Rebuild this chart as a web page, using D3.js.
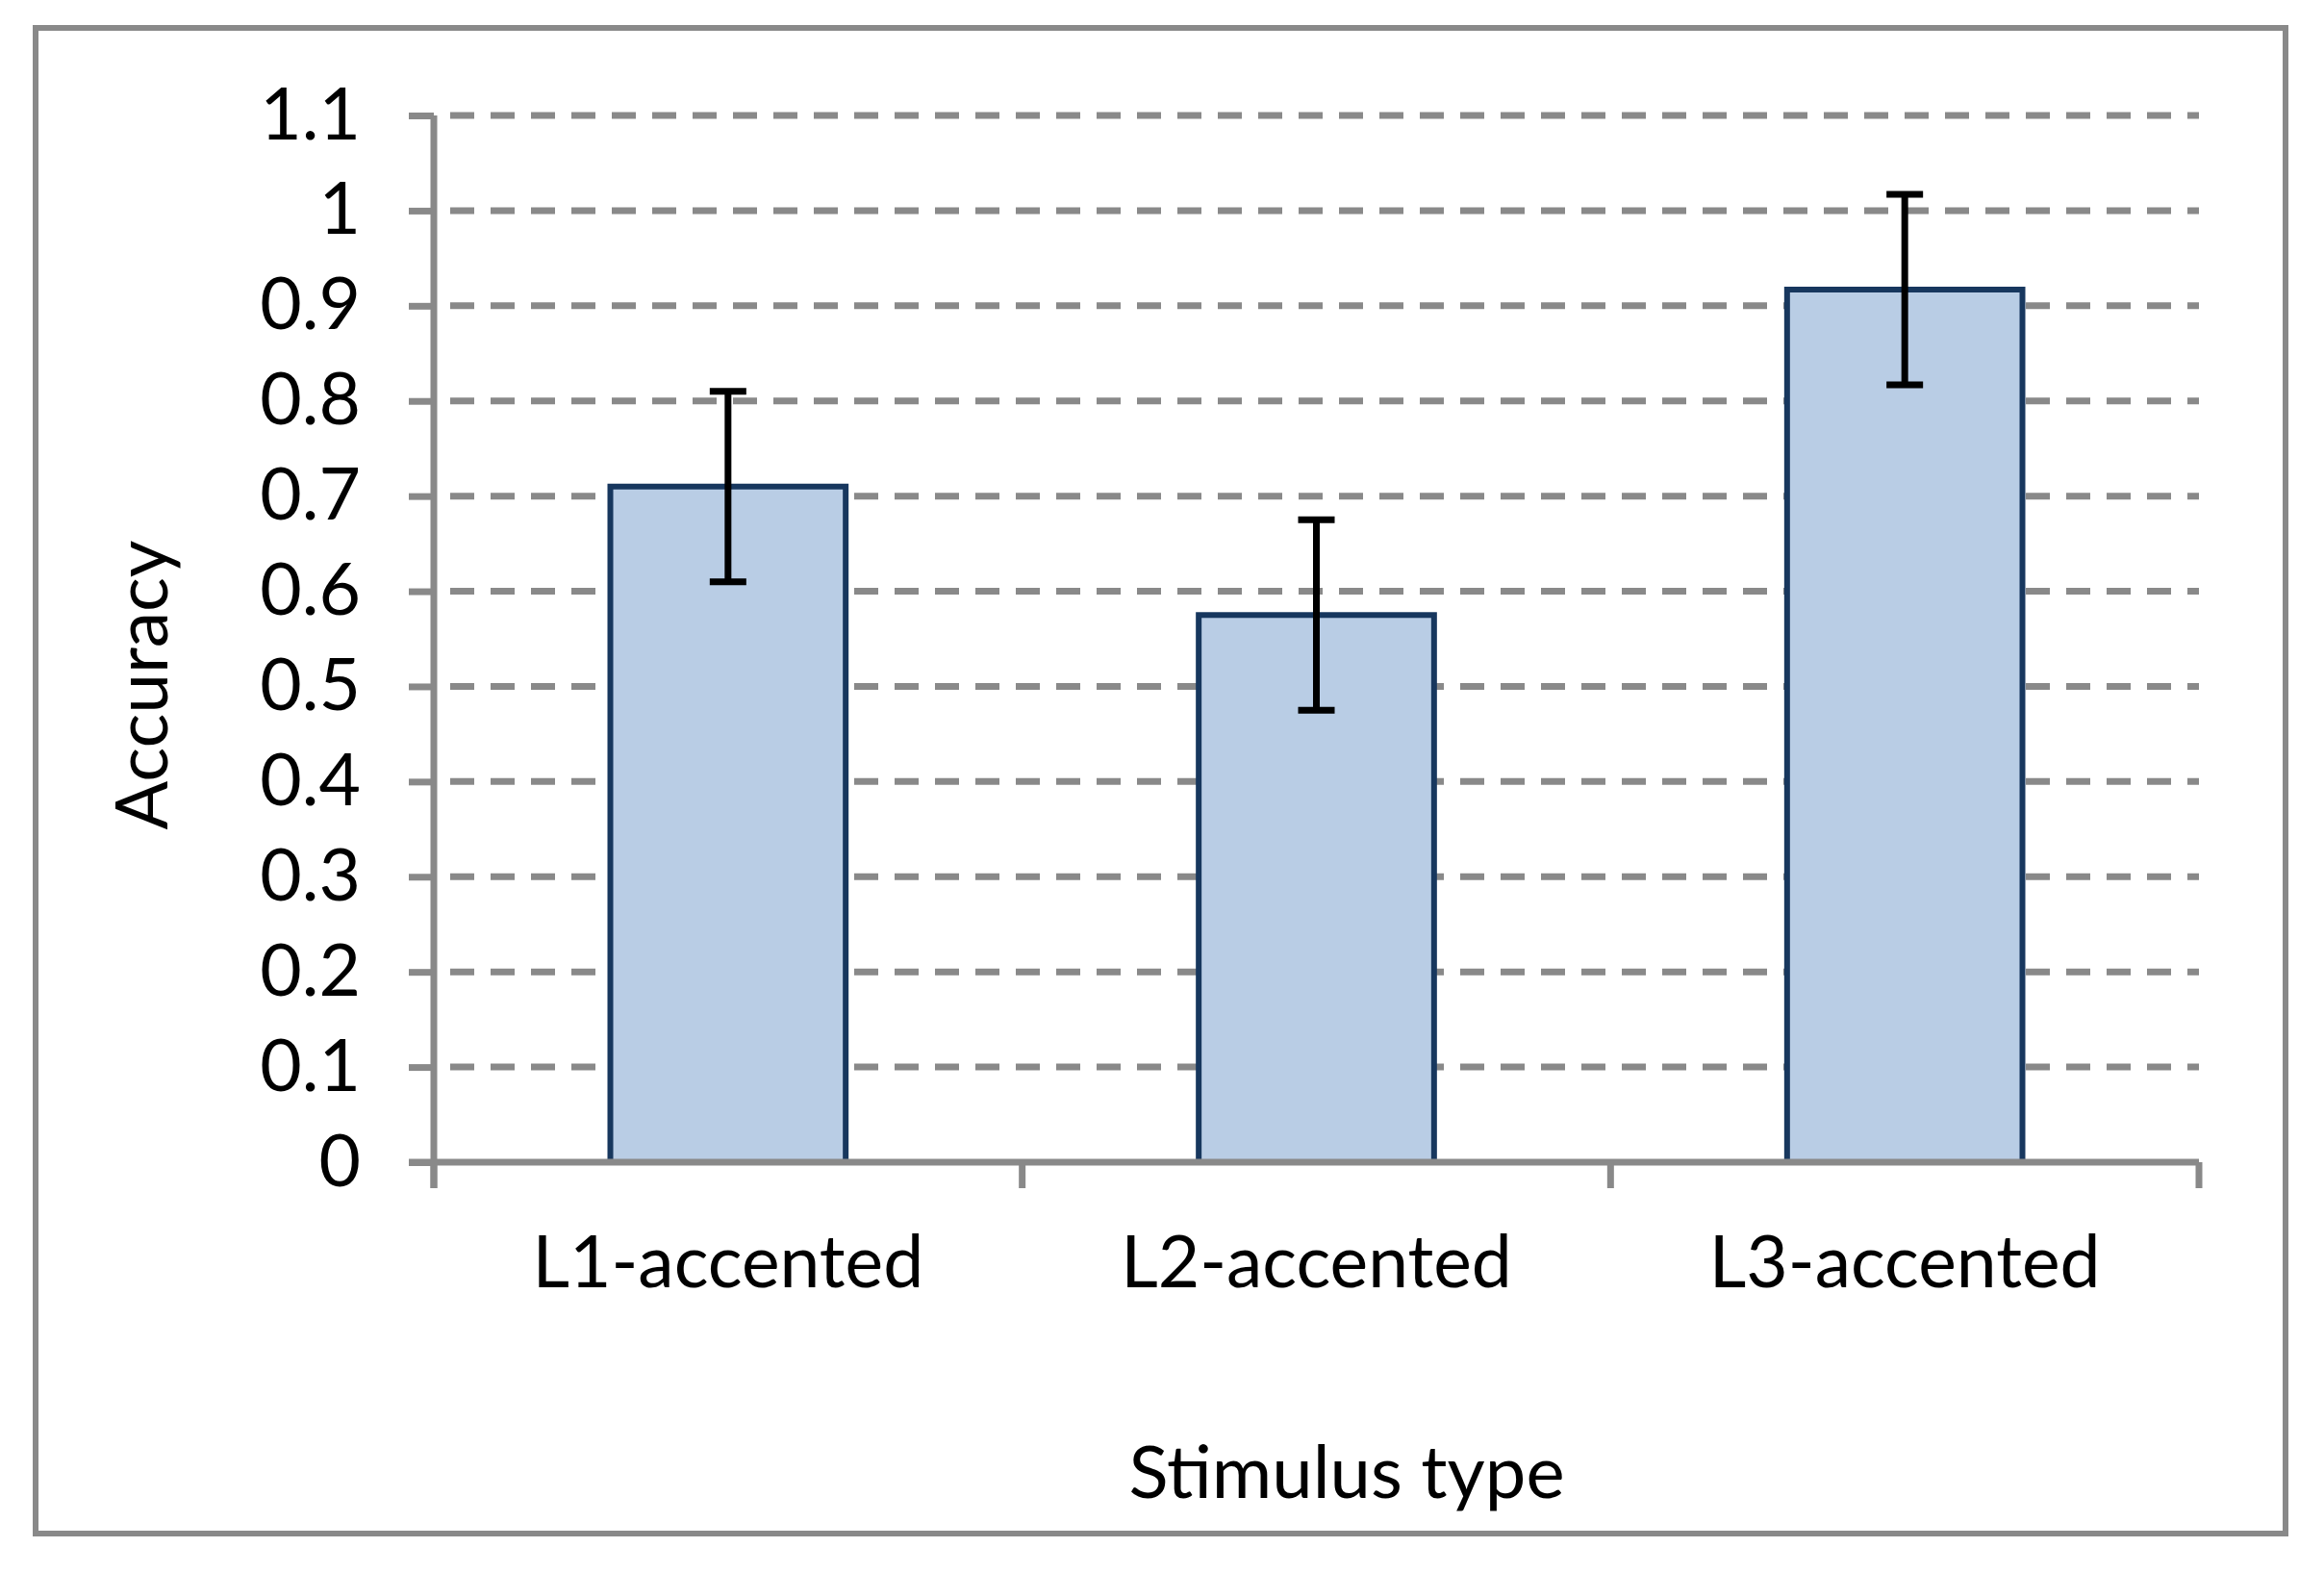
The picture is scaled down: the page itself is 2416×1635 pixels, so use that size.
<!DOCTYPE html>
<html>
<head>
<meta charset="utf-8">
<script src="https://cdn.jsdelivr.net/npm/d3@7"></script>
<style>
  body { margin: 0; background: #ffffff; }
  text { font-family: Lato, "Open Sans", sans-serif; fill: #000000; }
</style>
</head>
<body>
<div id="chart"></div>
<script>
// Chart data
const categories = ["L1-accented", "L2-accented", "L3-accented"];
const accuracy = [0.71, 0.575, 0.917];
const errors = [0.1, 0.1, 0.1];
const yTicks = [0, 0.1, 0.2, 0.3, 0.4, 0.5, 0.6, 0.7, 0.8, 0.9, 1, 1.1];
const yTickLabels = ["0", "0.1", "0.2", "0.3", "0.4", "0.5", "0.6", "0.7", "0.8", "0.9", "1", "1.1"];

// Dimensions
const w = 2416;
const h = 1635;
const plotLeft = 451;
const plotRight = 2286;
const plotTop = 120;
const plotBottom = 1208;

// Colors
const gray = "#898989";
const barFill = "#b9cde5";
const barStroke = "#17375e";

const data = categories.map((c, i) => ({cat: c, value: accuracy[i], err: errors[i]}));

const svg = d3.select("#chart")
  .append("svg")
  .attr("width", w)
  .attr("height", h);

// Outer frame
svg.append("rect")
   .attr("x", 37)
   .attr("y", 29)
   .attr("width", 2376 - 37)
   .attr("height", 1594 - 29)
   .attr("fill", "none")
   .attr("stroke", gray)
   .attr("stroke-width", 6);

// Scales
const xScale = d3.scaleBand()
  .domain(categories)
  .range([plotLeft, plotRight])
  .paddingInner(0.6)
  .paddingOuter(0.3);

const yScale = d3.scaleLinear()
  .domain([0, 1.1])
  .range([plotBottom, plotTop]);

// Gridlines (dashed), skip zero
svg.append("g")
   .selectAll("line")
   .data(yTicks.filter(d => d > 0))
   .enter()
   .append("line")
   .attr("x1", plotLeft)
   .attr("x2", plotRight)
   .attr("y1", d => yScale(d))
   .attr("y2", d => yScale(d))
   .attr("stroke", gray)
   .attr("stroke-width", 7)
   .attr("stroke-dasharray", "25,17")
   .attr("stroke-dashoffset", -17);

// Y axis with ticks and labels
const yAxis = d3.axisLeft(yScale)
  .tickValues(yTicks)
  .tickFormat((d, i) => yTickLabels[i])
  .tickSize(26)
  .tickPadding(50);

const yAxisG = svg.append("g")
   .attr("transform", "translate(" + plotLeft + ",0)")
   .call(yAxis);

yAxisG.select(".domain").remove();
yAxisG.selectAll(".tick line")
   .attr("stroke", gray)
   .attr("stroke-width", 7);
yAxisG.selectAll(".tick text")
   .style("font-family", "Lato")
   .style("font-size", "75px")
   .attr("fill", "#000");

// Bars
svg.selectAll("rect.bar")
   .data(data)
   .enter()
   .append("rect")
   .attr("class", "bar")
   .attr("x", d => xScale(d.cat))
   .attr("y", d => yScale(d.value))
   .attr("width", xScale.bandwidth())
   .attr("height", d => yScale(0) - yScale(d.value))
   .attr("fill", barFill)
   .attr("stroke", barStroke)
   .attr("stroke-width", 6);

// Axis lines
svg.append("line")
   .attr("x1", plotLeft)
   .attr("x2", plotLeft)
   .attr("y1", plotTop)
   .attr("y2", plotBottom + 27)
   .attr("stroke", gray)
   .attr("stroke-width", 7);

svg.append("line")
   .attr("x1", plotLeft - 26)
   .attr("x2", plotRight)
   .attr("y1", plotBottom)
   .attr("y2", plotBottom)
   .attr("stroke", gray)
   .attr("stroke-width", 7);

// X axis ticks at band boundaries
const step = xScale.step();
const boundaries = categories.map(c => xScale(c) + xScale.bandwidth() / 2 + step / 2);
boundaries.unshift(xScale(categories[0]) + xScale.bandwidth() / 2 - step / 2);

svg.append("g")
   .selectAll("line")
   .data(boundaries)
   .enter()
   .append("line")
   .attr("x1", d => d)
   .attr("x2", d => d)
   .attr("y1", plotBottom)
   .attr("y2", plotBottom + 27)
   .attr("stroke", gray)
   .attr("stroke-width", 7);

// Error bars
const errG = svg.append("g")
   .selectAll("g")
   .data(data)
   .enter()
   .append("g");

const cx = d => xScale(d.cat) + xScale.bandwidth() / 2;

errG.append("line")
   .attr("x1", cx)
   .attr("x2", cx)
   .attr("y1", d => yScale(d.value + d.err))
   .attr("y2", d => yScale(d.value - d.err))
   .attr("stroke", "#000")
   .attr("stroke-width", 7);

[1, -1].forEach(function (s) {
  errG.append("line")
     .attr("x1", d => cx(d) - 19)
     .attr("x2", d => cx(d) + 19)
     .attr("y1", d => yScale(d.value + s * d.err))
     .attr("y2", d => yScale(d.value + s * d.err))
     .attr("stroke", "#000")
     .attr("stroke-width", 7);
});

// Category labels
svg.append("g")
   .selectAll("text")
   .data(categories)
   .enter()
   .append("text")
   .attr("x", d => xScale(d) + xScale.bandwidth() / 2)
   .attr("y", 1338)
   .attr("text-anchor", "middle")
   .style("font-size", "75px")
   .text(d => d);

// Axis titles
svg.append("text")
   .attr("x", 1400)
   .attr("y", 1557)
   .attr("text-anchor", "middle")
   .style("font-size", "76px")
   .text("Stimulus type");

svg.append("text")
   .attr("transform", "translate(174,712) rotate(-90)")
   .attr("text-anchor", "middle")
   .style("font-size", "75px")
   .text("Accuracy");
</script>
</body>
</html>
